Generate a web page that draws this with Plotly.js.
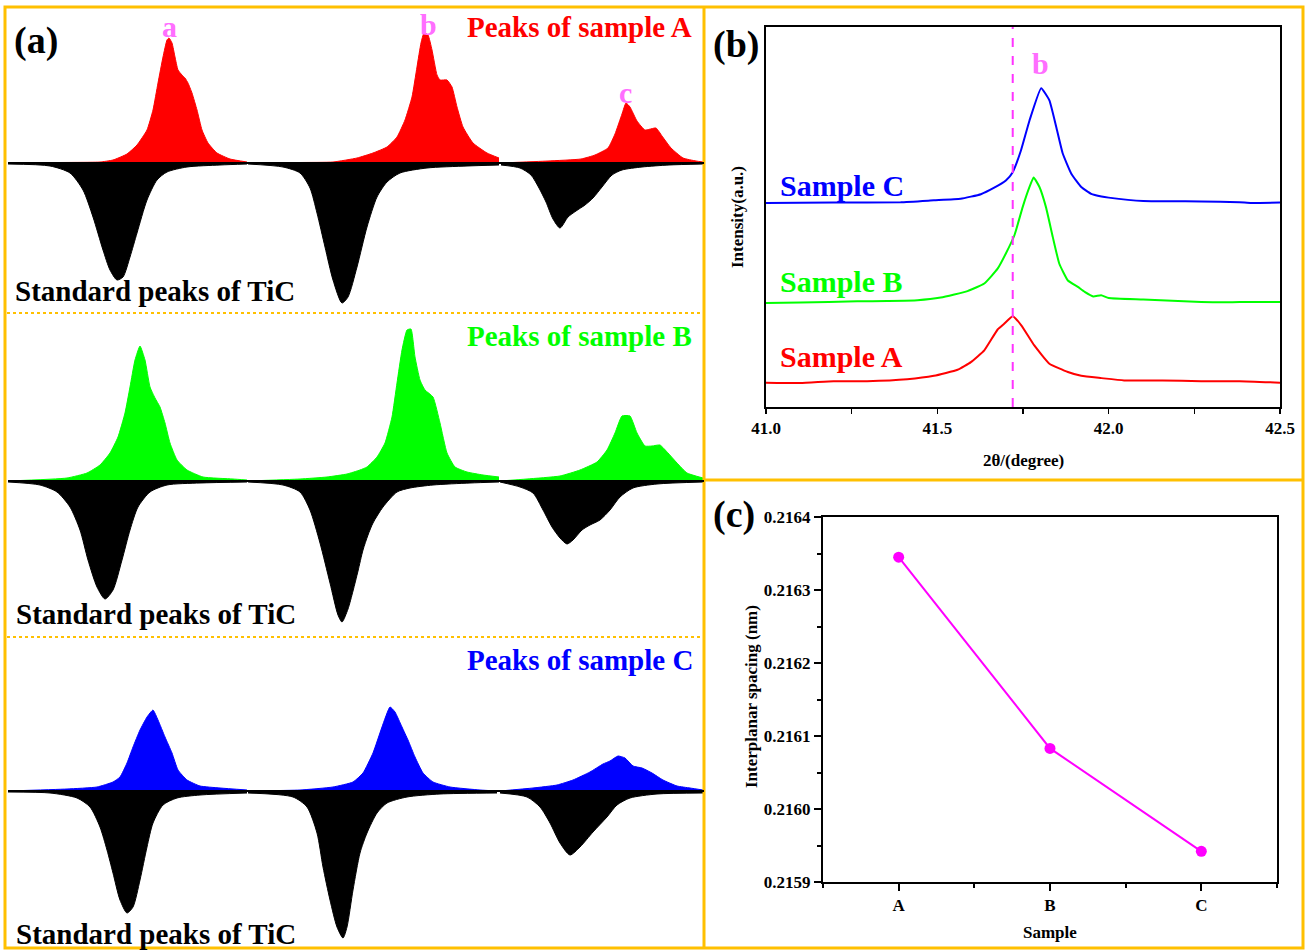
<!DOCTYPE html>
<html><head><meta charset="utf-8">
<script src="https://cdn.plot.ly/plotly-3.0.1.min.js"></script>
<style>html,body{margin:0;padding:0;background:#fff;} #chart{width:1306px;height:951px;}</style>
</head><body><div id="chart"></div>
<script>
// ---------------- Panel (a): composite peak windows (position, intensity relative to baseline) ----------------
// Sample A (red) and standard TiC (black, drawn downward)
const aRed1X = [8, 60, 100, 113, 127, 137, 147, 153, 158, 163, 167, 169, 172, 175, 178, 182, 185, 188, 192, 197, 202, 208, 217, 230, 247];
const aRed1Y = [0, 0.5, 1, 3, 9, 18, 33, 53, 80, 106, 123, 125, 120, 106, 93, 88, 85, 80, 70, 53, 33, 20, 10, 4, 1];
const aStd1X = [8, 50, 70, 83, 93, 103, 110, 117, 123, 130, 137, 147, 157, 167, 187, 220, 247];
const aStd1Y = [-1, -3, -10, -27, -54, -87, -107, -117, -114, -94, -70, -37, -17, -9, -4, -2, -1];
const aRed2X = [248, 300, 333, 357, 373, 387, 397, 405, 412, 417, 421, 424, 428, 432, 437, 440, 447, 452, 457, 463, 473, 487, 499];
const aRed2Y = [0, 0.5, 1, 5, 10, 16, 26, 43, 66, 96, 120, 130, 128, 113, 88, 83, 83, 76, 56, 36, 20, 10, 5];
const aStd2X = [248, 283, 300, 310, 317, 325, 333, 342, 348, 357, 367, 377, 387, 400, 427, 467, 499];
const aStd2Y = [-1, -4, -10, -25, -50, -84, -117, -140, -134, -104, -64, -34, -19, -10, -5, -3, -2];
const aRed3X = [501, 548, 581, 595, 608, 615, 622, 626, 630, 637, 645, 656, 662, 671, 683, 696, 703];
const aRed3Y = [0, 2, 4, 8, 15, 29, 49, 60, 56, 42, 33, 35, 27, 15, 5, 2, 1];
const aStd3X = [501, 520, 531, 539, 546, 553, 560, 568, 576, 585, 593, 602, 612, 622, 642, 669, 703];
const aStd3Y = [-2, -5, -12, -25, -39, -56, -65, -54, -48, -42, -35, -24, -12, -7, -4, -2, -1];
// Sample B (green)
const bGrn1X = [8, 67, 87, 100, 110, 118, 125, 130, 135, 140, 145, 150, 155, 160, 165, 170, 177, 187, 203, 233, 247];
const bGrn1Y = [0, 3, 8, 16, 28, 44, 68, 94, 121, 135, 121, 94, 83, 74, 58, 38, 21, 11, 4, 2, 1];
const bStd1X = [8, 40, 57, 70, 80, 88, 97, 105, 113, 122, 130, 138, 150, 167, 200, 247];
const bStd1Y = [-1, -4, -11, -26, -49, -79, -106, -118, -109, -79, -49, -26, -11, -4, -2, -1];
const bGrn2X = [248, 300, 327, 347, 360, 367, 377, 385, 392, 397, 402, 407, 411, 415, 420, 425, 433, 440, 447, 455, 467, 483, 499];
const bGrn2Y = [0, 2, 4, 7, 11, 14, 24, 38, 64, 98, 131, 151, 152, 124, 101, 91, 84, 58, 28, 14, 9, 6, 4];
const bStd2X = [248, 283, 300, 310, 320, 330, 338, 342, 348, 353, 358, 363, 368, 373, 383, 397, 410, 433, 470, 499];
const bStd2Y = [-1, -4, -11, -29, -62, -102, -134, -141, -128, -110, -90, -69, -54, -42, -26, -11, -7, -4, -2, -1];
const bGrn3X = [500, 527, 560, 580, 597, 607, 615, 622, 630, 637, 645, 652, 660, 668, 677, 687, 703];
const bGrn3Y = [0, 2, 5, 11, 19, 31, 48, 65, 65, 48, 35, 35, 36, 28, 18, 8, 3];
const bStd3X = [500, 520, 533, 543, 552, 560, 567, 573, 582, 590, 600, 610, 620, 633, 657, 703];
const bStd3Y = [-1, -6, -12, -29, -46, -57, -63, -59, -49, -44, -39, -29, -16, -7, -3, -1];
// Sample C (blue)
const cBlu1X = [8, 67, 97, 113, 120, 127, 133, 140, 147, 153, 158, 165, 172, 178, 187, 200, 220, 247];
const cBlu1Y = [0, 2, 4, 9, 14, 28, 44, 61, 74, 81, 71, 54, 38, 21, 11, 5, 3, 1];
const cStd1X = [8, 50, 77, 90, 100, 107, 113, 120, 127, 133, 140, 147, 153, 163, 177, 200, 247];
const cStd1Y = [-1, -2, -7, -16, -36, -59, -82, -109, -122, -116, -89, -56, -32, -14, -7, -4, -2];
const cBlu2X = [248, 300, 333, 353, 363, 373, 382, 390, 395, 402, 408, 415, 423, 433, 450, 480, 497];
const cBlu2Y = [0, 1, 4, 9, 18, 38, 64, 84, 79, 64, 51, 34, 18, 9, 4, 1, 0];
const cStd2X = [248, 293, 307, 317, 323, 330, 337, 343, 347, 353, 360, 367, 377, 387, 407, 440, 497];
const cStd2Y = [-2, -6, -16, -42, -76, -109, -136, -147, -136, -99, -62, -42, -22, -12, -6, -3, -2];
const cBlu3X = [500, 533, 557, 573, 590, 603, 610, 618, 625, 633, 642, 652, 663, 677, 690, 703];
const cBlu3Y = [0, 3, 6, 11, 19, 27, 30, 35, 33, 25, 23, 18, 11, 5, 3, 1];
const cStd3X = [500, 527, 540, 550, 560, 570, 580, 593, 607, 617, 630, 657, 703];
const cStd3Y = [-2, -6, -16, -32, -52, -64, -56, -41, -26, -14, -7, -3, -2];

// ---------------- Panel (b): peak b region ----------------
const sampleA_2t = [41.0, 41.100, 41.197, 41.295, 41.412, 41.490, 41.559, 41.598, 41.637, 41.676, 41.695, 41.720, 41.745, 41.783, 41.827, 41.881, 41.920, 41.979, 42.045, 42.157, 42.270, 42.382, 42.500];
const sampleA_I  = [6.4, 6.3, 6.8, 6.8, 7.3, 8.2, 9.8, 11.8, 14.9, 20.4, 21.9, 23.9, 21.5, 16.2, 11.4, 9.2, 8.2, 7.6, 7.0, 7.0, 6.8, 6.8, 6.4];
const sampleB_2t = [41.0, 41.100, 41.266, 41.354, 41.442, 41.510, 41.588, 41.637, 41.676, 41.700, 41.725, 41.749, 41.769, 41.781, 41.798, 41.817, 41.837, 41.856, 41.881, 41.910, 41.930, 41.955, 41.978, 42.000, 42.101, 42.270, 42.382, 42.500];
const sampleB_I  = [27.4, 27.5, 27.8, 27.9, 28.1, 28.8, 30.5, 32.5, 36.4, 40.4, 45.2, 52.6, 57.9, 60.4, 57.9, 52.6, 44.7, 37.7, 33.3, 31.6, 30.3, 29.1, 29.4, 28.7, 28.3, 27.6, 27.6, 27.6];
const sampleC_2t = [41.0, 41.197, 41.393, 41.490, 41.568, 41.627, 41.666, 41.700, 41.720, 41.744, 41.769, 41.803, 41.827, 41.847, 41.866, 41.891, 41.920, 41.949, 41.979, 42.000, 42.101, 42.270, 42.382, 42.416, 42.500];
const sampleC_I  = [53.7, 53.8, 53.9, 54.4, 54.8, 56.0, 57.7, 59.6, 61.8, 67.5, 75.4, 83.9, 80.7, 73.7, 66.7, 61.4, 57.9, 56.1, 55.4, 55.1, 54.2, 54.1, 53.9, 53.7, 53.8];
const peakB_ref = 41.72;

// ---------------- Panel (c): interplanar spacing ----------------
const samples = ['A', 'B', 'C'];
const spacing = [0.216345, 0.216083, 0.215942];

// ---------------- helpers ----------------
const W = 1306, H = 951;
const px = v => v / W;
const py = v => 1 - v / H;
const FONT = 'Liberation Serif';
const GOLD = '#FFC000';
const PINK = '#FF6EFF';

function area(x, y, color, xa, ya, smooth) {
  return {x: x, y: y, type: 'scatter', mode: 'lines', xaxis: xa, yaxis: ya,
    fill: 'tozeroy', fillcolor: color,
    line: {color: color, width: 1, shape: 'spline', smoothing: smooth},
    hoverinfo: 'skip'};
}
const S_SMP = 0.45, S_STD = 0.7;

const traces = [
  area(aRed1X, aRed1Y, '#FF0000', 'x', 'y', S_SMP), area(aRed2X, aRed2Y, '#FF0000', 'x', 'y', S_SMP), area(aRed3X, aRed3Y, '#FF0000', 'x', 'y', S_SMP),
  area(aStd1X, aStd1Y, '#000000', 'x', 'y', S_STD), area(aStd2X, aStd2Y, '#000000', 'x', 'y', S_STD), area(aStd3X, aStd3Y, '#000000', 'x', 'y', S_STD),
  area(bGrn1X, bGrn1Y, '#00FF00', 'x2', 'y2', S_SMP), area(bGrn2X, bGrn2Y, '#00FF00', 'x2', 'y2', S_SMP), area(bGrn3X, bGrn3Y, '#00FF00', 'x2', 'y2', S_SMP),
  area(bStd1X, bStd1Y, '#000000', 'x2', 'y2', S_STD), area(bStd2X, bStd2Y, '#000000', 'x2', 'y2', S_STD), area(bStd3X, bStd3Y, '#000000', 'x2', 'y2', S_STD),
  area(cBlu1X, cBlu1Y, '#0000FF', 'x3', 'y3', S_SMP), area(cBlu2X, cBlu2Y, '#0000FF', 'x3', 'y3', S_SMP), area(cBlu3X, cBlu3Y, '#0000FF', 'x3', 'y3', S_SMP),
  area(cStd1X, cStd1Y, '#000000', 'x3', 'y3', S_STD), area(cStd2X, cStd2Y, '#000000', 'x3', 'y3', S_STD), area(cStd3X, cStd3Y, '#000000', 'x3', 'y3', S_STD),
  {x: sampleA_2t, y: sampleA_I, type: 'scatter', mode: 'lines', xaxis: 'x4', yaxis: 'y4', line: {color: '#FF0000', width: 2, shape: 'spline', smoothing: 0.4}},
  {x: sampleB_2t, y: sampleB_I, type: 'scatter', mode: 'lines', xaxis: 'x4', yaxis: 'y4', line: {color: '#00FF00', width: 2, shape: 'spline', smoothing: 0.4}},
  {x: sampleC_2t, y: sampleC_I, type: 'scatter', mode: 'lines', xaxis: 'x4', yaxis: 'y4', line: {color: '#0000FF', width: 2, shape: 'spline', smoothing: 0.4}},
  {x: samples.map((s, i) => i), y: spacing, type: 'scatter', mode: 'lines+markers', xaxis: 'x5', yaxis: 'y5',
    line: {color: '#FF00FF', width: 2}, marker: {color: '#FF00FF', size: 11}}
];

const hiddenX = dom => ({domain: dom, range: [8, 704], visible: false, fixedrange: true});
const hiddenY = (dom, rng) => ({domain: dom, range: rng, visible: false, fixedrange: true});

const tickFont = {family: FONT, size: 17, color: '#000', weight: 'bold'};

const layout = {
  width: W, height: H, margin: {l: 0, r: 0, t: 0, b: 0},
  paper_bgcolor: '#fff', plot_bgcolor: 'rgba(0,0,0,0)', showlegend: false, hovermode: false,
  font: {family: FONT},
  xaxis: hiddenX([px(8), px(704)]),
  yaxis: hiddenY([py(313), py(8)], [163 - 313, 163 - 8]),
  xaxis2: hiddenX([px(8), px(704)]),
  yaxis2: hiddenY([py(637), py(313)], [481 - 637, 481 - 313]),
  xaxis3: hiddenX([px(8), px(704)]),
  yaxis3: hiddenY([py(948), py(637)], [791 - 948, 791 - 637]),
  xaxis4: {domain: [px(766), px(1280)], anchor: 'y4', range: [41.0, 42.5], tick0: 41, dtick: 0.5, tickformat: '.1f',
    showline: true, linewidth: 2, linecolor: '#000', mirror: true, showgrid: false, zeroline: false,
    ticks: 'outside', ticklen: 5, tickwidth: 1.5, tickcolor: '#000', tickfont: tickFont,
    minor: {dtick: 0.25, ticks: 'outside', ticklen: 5, tickwidth: 1.5, tickcolor: '#000', showgrid: false}},
  yaxis4: {domain: [py(407), py(27)], anchor: 'x4', range: [0, 100], showticklabels: false, ticks: '',
    showline: true, linewidth: 2, linecolor: '#000', mirror: true, showgrid: false, zeroline: false},
  xaxis5: {domain: [px(823), px(1277)], anchor: 'y5', range: [-0.5, 2.5], tickmode: 'array', tickvals: samples.map((s, i) => i), ticktext: samples,
    showline: true, linewidth: 2, linecolor: '#000', mirror: true, showgrid: false, zeroline: false,
    ticks: 'outside', ticklen: 7, tickwidth: 2, tickcolor: '#000', tickfont: tickFont,
    minor: {tick0: 0.5, dtick: 1, ticks: 'outside', ticklen: 4, tickwidth: 2, tickcolor: '#000', showgrid: false}},
  yaxis5: {domain: [py(882), py(517)], anchor: 'x5', range: [0.2159, 0.2164], tick0: 0.2159, dtick: 0.0001, tickformat: '.4f',
    showline: true, linewidth: 2, linecolor: '#000', mirror: true, showgrid: false, zeroline: false,
    ticks: 'outside', ticklen: 7, tickwidth: 2, tickcolor: '#000', tickfont: tickFont,
    minor: {dtick: 0.00005, ticks: 'outside', ticklen: 4, tickwidth: 2, tickcolor: '#000', showgrid: false}},
  shapes: [
    {type: 'rect', xref: 'paper', yref: 'paper', x0: px(5), x1: px(1303), y0: py(948), y1: py(7), line: {color: GOLD, width: 3}},
    {type: 'line', xref: 'paper', yref: 'paper', x0: px(704), x1: px(704), y0: py(948), y1: py(7), line: {color: GOLD, width: 3}},
    {type: 'line', xref: 'paper', yref: 'paper', x0: px(704), x1: px(1303), y0: py(480), y1: py(480), line: {color: GOLD, width: 3}},
    {type: 'line', xref: 'paper', yref: 'paper', x0: px(7), x1: px(703), y0: py(313), y1: py(313), line: {color: GOLD, width: 2, dash: 'dot'}},
    {type: 'line', xref: 'paper', yref: 'paper', x0: px(7), x1: px(703), y0: py(637), y1: py(637), line: {color: GOLD, width: 2, dash: 'dot'}},
    {type: 'line', xref: 'x', yref: 'y', x0: 8, x1: 704, y0: 0, y1: 0, line: {color: '#000', width: 2}},
    {type: 'line', xref: 'x2', yref: 'y2', x0: 8, x1: 704, y0: 0, y1: 0, line: {color: '#000', width: 2}},
    {type: 'line', xref: 'x3', yref: 'y3', x0: 8, x1: 704, y0: 0, y1: 0, line: {color: '#000', width: 2}},
    {type: 'line', xref: 'x4', yref: 'y4 domain', x0: peakB_ref, x1: peakB_ref, y0: 0, y1: 1, line: {color: '#FF33FF', width: 2, dash: 'dash'}}
  ],
  annotations: []
};

const fnt = (size, c) => ({family: FONT, size: size, color: c, weight: 'bold'});
function txt(text, x, y, opts) {
  return Object.assign({text: '<b>' + text + '</b>', x: x, y: y, xref: 'paper', yref: 'paper', showarrow: false,
    xanchor: 'left', yanchor: 'middle', font: fnt(29, '#000')}, opts || {});
}
layout.annotations.push(
  txt('(a)', px(12), py(41), {font: fnt(38, '#000')}),
  txt('(b)', px(711), py(44), {font: fnt(38, '#000')}),
  txt('(c)', px(711), py(514), {font: fnt(38, '#000')}),
  txt('Peaks of sample A', px(694), py(27), {xanchor: 'right', font: fnt(29, '#FF0000')}),
  txt('Peaks of sample B', px(694), py(336), {xanchor: 'right', font: fnt(29, '#00FF00')}),
  txt('Peaks of sample C', px(695), py(660), {xanchor: 'right', font: fnt(29, '#0000FF')}),
  txt('Standard peaks of TiC', px(13), py(291)),
  txt('Standard peaks of TiC', px(14), py(614)),
  txt('Standard peaks of TiC', px(14), py(934)),
  txt('a', 169, 136, {xref: 'x', yref: 'y', xanchor: 'center', font: fnt(30, PINK)}),
  txt('b', 428, 138, {xref: 'x', yref: 'y', xanchor: 'center', font: fnt(30, PINK)}),
  txt('c', 625, 70, {xref: 'x', yref: 'y', xanchor: 'center', font: fnt(30, PINK)}),
  txt('b', 41.80, 90.5, {xref: 'x4', yref: 'y4', xanchor: 'center', font: fnt(30, PINK)}),
  txt('Sample C', 41.035, 58.4, {xref: 'x4', yref: 'y4', font: fnt(30, '#0000FF')}),
  txt('Sample B', 41.035, 32.9, {xref: 'x4', yref: 'y4', font: fnt(30, '#00FF00')}),
  txt('Sample A', 41.035, 13.2, {xref: 'x4', yref: 'y4', font: fnt(30, '#FF0000')}),
  txt('Intensity(a.u.)', px(737), py(217), {xanchor: 'center', textangle: -90, font: fnt(17, '#000')}),
  txt('2θ/(degree)', px(1023), py(460), {xanchor: 'center', font: fnt(17, '#000')}),
  txt('Interplanar spacing (nm)', px(751), py(697), {xanchor: 'center', textangle: -90, font: fnt(17, '#000')}),
  txt('Sample', px(1050), py(932), {xanchor: 'center', font: fnt(17, '#000')})
);

Plotly.newPlot('chart', traces, layout, {staticPlot: true, displayModeBar: false});
</script></body></html>
